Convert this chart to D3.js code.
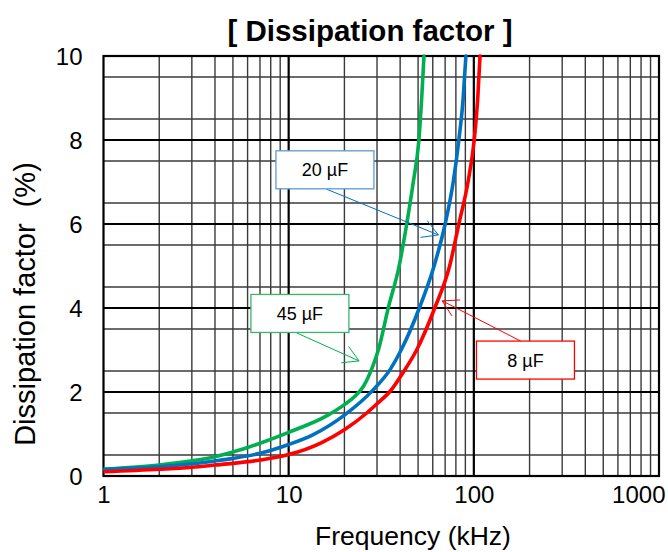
<!DOCTYPE html>
<html><head><meta charset="utf-8">
<script src="https://cdn.jsdelivr.net/npm/d3@7/dist/d3.min.js"></script>
<style>body{margin:0;background:#fff}svg{display:block;font-family:"Liberation Sans",Arial,sans-serif}</style>
</head><body><svg id="c" width="668" height="552"></svg>
<script>
// ---- data (frequency kHz, dissipation factor %) ----
const freq45 = [1,2,3,4,5,7,10,16.3,20,22.8,25.3,28.1,30.5,34.5,39.5,43.4,47.1,50.5,52.3,53.8];
const df45   = [0.16,0.26,0.36,0.46,0.57,0.78,1.04,1.45,1.7,1.9,2.13,2.55,3.0,4.0,5.0,6.0,7.0,8.0,9.0,10];
const freq20 = [1,2,3,4,5,7,10,13.5,20,28.6,35.5,40.5,50.8,61,70,77.4,83,87.6,90.6];
const df20   = [0.16,0.22,0.29,0.36,0.42,0.54,0.75,0.98,1.45,2.05,2.55,3.0,4.0,5.0,6.0,7.0,8.0,9.0,10];
const freq8  = [1,2,3,4,5,7,10,15,20,26.4,30,35.5,42,49.1,61.5,74,83,93,100.5,105,108];
const df8    = [0.10,0.16,0.21,0.26,0.30,0.38,0.51,0.79,1.1,1.5,1.72,2.03,2.5,3.0,4.0,5.0,6.0,7.0,8.0,9.0,10];
const seriesNames = ["45 µF","20 µF","8 µF"];
const xTickLabels = ["1","10","100","1000"];
const yTickLabels = ["0","2","4","6","8","10"];
// annotation anchors in data units: box centre, arrow start, arrow tip
const annLabels = ["20 µF","45 µF","8 µF"];
const annBoxF   = [15.7, 11.5, 190];
const annBoxV   = [7.29, 3.87, 2.76];
const annFromF  = [16.0, 11.0, 179.6];
const annFromV  = [6.83, 3.41, 3.21];
const annTipF   = [64.3, 24.0, 67.5];
const annTipV   = [5.74, 2.74, 4.17];

const colors = {"45 µF":"#00B050","20 µF":"#0070C0","8 µF":"#FF0000"};
const boxColors = {"45 µF":"#3DB36B","20 µF":"#5B9BD5","8 µF":"#FF0000"};

const svg = d3.select("#c");
const L=103.5,R=659,T=56,B=476;
const x = d3.scaleLog().domain([1,1000]).range([L,R]);
const y = d3.scaleLinear().domain([0,10]).range([B,T]);

// grid
const g = svg.append("g");
const minorX=[];
for(let d=1; d<1000; d*=10) for(let k=2;k<=9;k++) minorX.push(k*d);
g.selectAll(".vx").data(minorX).join("line")
  .attr("x1",d=>x(d)).attr("x2",d=>x(d)).attr("y1",T).attr("y2",B)
  .attr("stroke","#3a3a3a").attr("stroke-width",1.4);
const minorY=d3.range(0.5,10,1);
g.selectAll(".hy").data(minorY).join("line")
  .attr("y1",d=>y(d)).attr("y2",d=>y(d)).attr("x1",L).attr("x2",R)
  .attr("stroke","#3a3a3a").attr("stroke-width",1.4);
const majY=[2,4,6,8];
g.selectAll(".my").data(majY).join("line")
  .attr("y1",d=>y(d)).attr("y2",d=>y(d)).attr("x1",L).attr("x2",R)
  .attr("stroke","#000").attr("stroke-width",2.2);
g.selectAll(".mx").data([10,100]).join("line")
  .attr("x1",d=>x(d)).attr("x2",d=>x(d)).attr("y1",T).attr("y2",B)
  .attr("stroke","#000").attr("stroke-width",2.2);
g.append("rect").attr("x",L).attr("y",T).attr("width",R-L).attr("height",B-T)
  .attr("fill","none").attr("stroke","#000").attr("stroke-width",2.2);

// axes labels via d3 axes
const xAxis = d3.axisBottom(x).tickValues([1,10,100,1000]).tickFormat((d,i)=>xTickLabels[i]).tickSize(0).tickPadding(0);
const xa = svg.append("g").attr("transform",`translate(0,${B})`).call(xAxis);
xa.select(".domain").remove();
xa.selectAll("text").attr("font-size",24).attr("fill","#000").attr("dy",null).attr("y",27)
  .attr("font-family","Liberation Sans, Arial, sans-serif");
// last label is pulled inside the frame, as in the reference
xa.selectAll(".tick").filter(d=>d===1000).select("text").attr("text-anchor","end").attr("x",6);
const yAxis = d3.axisLeft(y).tickValues([0,2,4,6,8,10]).tickFormat((d,i)=>yTickLabels[i]).tickSize(0).tickPadding(21);
const ya = svg.append("g").attr("transform",`translate(${L},0)`).call(yAxis);
ya.select(".domain").remove();
ya.selectAll("text").attr("font-size",24).attr("fill","#000").attr("dy","0.36em")
  .attr("font-family","Liberation Sans, Arial, sans-serif");

// curves
const line = d3.line().x(d=>x(d[0])).y(d=>y(d[1])).curve(d3.curveMonotoneX);
const series = [
  {name:seriesNames[0], f:freq45, v:df45},
  {name:seriesNames[1], f:freq20, v:df20},
  {name:seriesNames[2], f:freq8,  v:df8}
];
svg.append("clipPath").attr("id","pc").append("rect").attr("x",L).attr("y",T-2).attr("width",R-L).attr("height",B-T+2);
svg.append("g").attr("clip-path","url(#pc)").selectAll("path").data(series).join("path")
  .attr("d",s=>line(s.f.map((f,i)=>[f,s.v[i]])))
  .attr("fill","none").attr("stroke",s=>colors[s.name]).attr("stroke-width",3.6)
  .attr("stroke-linecap","round");

// annotations
const anns = annLabels.map((l,i)=>({l, bx:x(annBoxF[i]), by:y(annBoxV[i]), fx:x(annFromF[i]), fy:y(annFromV[i]), tx:x(annTipF[i]), ty:y(annTipV[i])}));
const ag = svg.append("g");
anns.forEach(a=>{
  const c = colors[a.l];
  ag.append("line").attr("x1",a.fx).attr("y1",a.fy).attr("x2",a.tx).attr("y2",a.ty).attr("stroke",c).attr("stroke-width",1);
  const ang = Math.atan2(a.ty-a.fy, a.tx-a.fx);
  const len=18, ha=Math.PI/6;
  [ang+Math.PI-ha, ang+Math.PI+ha].forEach(t=>{
    ag.append("line").attr("x1",a.tx).attr("y1",a.ty)
      .attr("x2",a.tx+len*Math.cos(t)).attr("y2",a.ty+len*Math.sin(t))
      .attr("stroke",c).attr("stroke-width",1);
  });
  ag.append("rect").attr("x",a.bx-49).attr("y",a.by-19).attr("width",98).attr("height",38)
    .attr("fill","#fff").attr("stroke",boxColors[a.l]).attr("stroke-width",1.3);
  ag.append("text").attr("x",a.bx).attr("y",a.by).attr("dy","0.36em").attr("text-anchor","middle")
    .attr("font-size",18).attr("fill","#000").text(a.l);
});

// titles
svg.append("text").attr("x",370).attr("y",41).attr("text-anchor","middle")
  .attr("font-size",29.5).attr("font-weight","bold").text("[ Dissipation factor ]");
svg.append("text").attr("x",413).attr("y",545).attr("text-anchor","middle")
  .attr("font-size",26.5).text("Frequency (kHz)");
svg.append("text").attr("transform","translate(35,304) rotate(-90)").attr("text-anchor","middle")
  .attr("font-size",29).style("white-space","pre").text("Dissipation factor  (%)");
</script></body></html>
